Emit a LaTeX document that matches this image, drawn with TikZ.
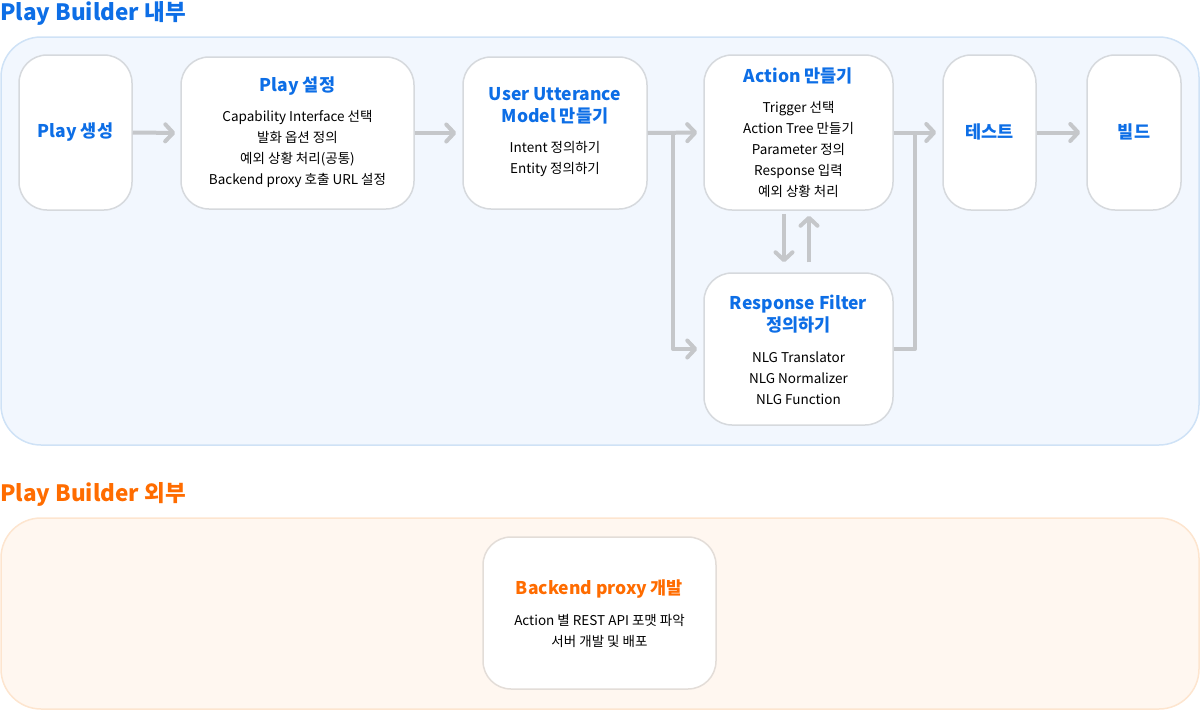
\documentclass[tikz,border=0pt]{standalone}
\usepackage{fontspec}
\setmainfont{Noto Sans CJK KR}
\usetikzlibrary{arrows.meta}
\definecolor{pbfill}{RGB}{242,247,254}
\definecolor{pbline}{RGB}{207,226,246}
\definecolor{pofill}{RGB}{255,247,240}
\definecolor{poline}{RGB}{253,229,207}
\definecolor{boxline}{RGB}{214,217,221}
\definecolor{boxlinew}{RGB}{227,221,216}
\definecolor{arrgray}{RGB}{197,199,202}
\definecolor{tblue}{RGB}{13,110,230}
\definecolor{torange}{RGB}{255,108,0}
\tikzset{
  panel/.style={draw, line width=1.5pt, rounded corners=40pt, inner sep=0pt},
  card/.style={draw=boxline, fill=white, line width=1.5pt, rounded corners=28pt, inner sep=0pt},
  ttl/.style={text=tblue, font=\fontsize{17.5}{22}\selectfont\bfseries, align=center, inner sep=0pt},
  ottl/.style={text=torange, font=\fontsize{17.5}{22}\selectfont\bfseries, align=center, inner sep=0pt},
  body/.style={text=black, font=\fontsize{13.5}{21}\selectfont, align=center, inner sep=0pt},
  bigttl/.style={font=\fontsize{22.5}{26}\selectfont\bfseries, inner sep=0pt, anchor=west},
  conn/.style={draw=arrgray, line width=4pt, line join=round},
  arr/.style={conn, -{Straight Barb[length=8pt,width=17pt,round]}},
}
\begin{document}
\begin{tikzpicture}[x=1pt,y=-1pt]
\useasboundingbox (0,0) rectangle (1200,710);
% panels
\node[panel, draw=pbline, fill=pbfill, minimum width=1198pt, minimum height=408pt] (pin) at (600,241) {};
\node[panel, draw=poline, fill=pofill, minimum width=1198pt, minimum height=191pt] (pout) at (600,613.5) {};
\node[bigttl, text=tblue] (tin) at (0,13) {Play Builder 내부};
\node[bigttl, text=torange] (tout) at (0,494) {Play Builder 외부};
% cards
\node[card, minimum width=113pt, minimum height=155pt] (b1) at (75.5,132.5) {};
\node[card, minimum width=233pt, minimum height=152pt] (b2) at (297.5,133) {};
\node[card, minimum width=184pt, minimum height=152pt] (b3) at (555,133) {};
\node[card, minimum width=189pt, minimum height=155pt] (b4) at (798.5,132.5) {};
\node[card, minimum width=93pt, minimum height=155pt] (b5) at (989.5,132.5) {};
\node[card, minimum width=94pt, minimum height=155pt] (b6) at (1134,132.5) {};
\node[card, minimum width=189pt, minimum height=152pt] (b7) at (798.5,349) {};
\node[card, draw=boxlinew, minimum width=233pt, minimum height=152pt] (b8) at (599.5,613) {};
% texts
\node[ttl] (t1) at (75.5,132) {Play 생성};
\node[ttl] (t2) at (297.5,86) {Play 설정};
\node[body] (d2) at (297.5,149) {Capability Interface 선택\\발화 옵션 정의\\예외 상황 처리(공통)\\Backend proxy 호출 URL 설정};
\node[ttl] (t3) at (555,106) {User Utterance\\Model 만들기};
\node[body] (d3) at (555,158.5) {Intent 정의하기\\Entity 정의하기};
\node[ttl] (t4) at (798.5,76) {Action 만들기};
\node[body] (d4) at (798.5,149) {Trigger 선택\\Action Tree 만들기\\Parameter 정의\\Response 입력\\예외 상황 처리};
\node[ttl] (t5) at (989.5,132) {테스트};
\node[ttl] (t6) at (1134,132) {빌드};
\node[ttl] (t7) at (798.5,314) {Response Filter\\정의하기};
\node[body] (d7) at (798.5,378) {NLG Translator\\NLG Normalizer\\NLG Function};
\node[ottl] (t8) at (599.5,589) {Backend proxy 개발};
\node[body] (d8) at (599.5,630.5) {Action 별 REST API 포맷 파악\\서버 개발 및 배포};
% connectors
\coordinate (j1) at (673,133);
\coordinate (j2) at (915,132.5);
\draw[arr, shorten >=5pt] (b1.east) -- (b2.west);
\draw[arr, shorten >=6pt] (b2.east) -- (b3.west);
\draw[arr, shorten >=6pt] (b3.east) -- (b4.west);
\draw[arr, shorten >=6pt] (j1) |- (b7.west);
\draw[arr, shorten >=6pt] (b4.east) -- (b5.west);
\draw[conn] (b7.east) -| (j2);
\draw[arr, shorten >=6pt] (b5.east) -- (b6.west);
\draw[arr, shorten <=3pt, shorten >=10pt] ([xshift=-14.5pt]b4.south) -- ([xshift=-14.5pt]b4.south |- b7.north);
\draw[arr, shorten <=10pt, shorten >=5pt] ([xshift=10.5pt]b7.north) -- ([xshift=10.5pt]b7.north |- b4.south);
\end{tikzpicture}
\end{document}
